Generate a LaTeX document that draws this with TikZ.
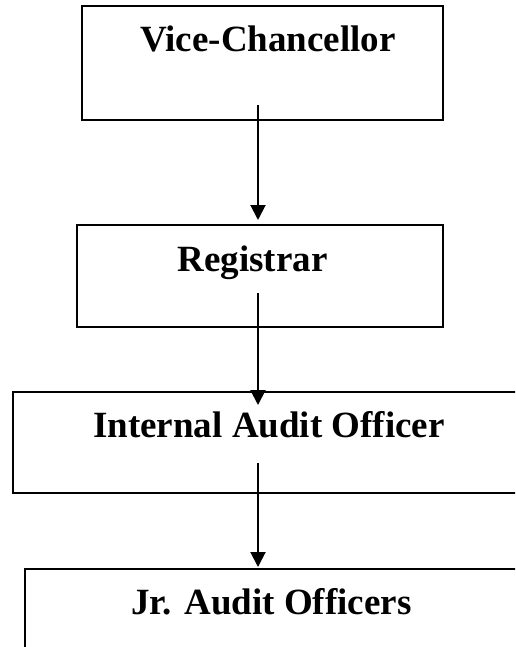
\documentclass[tikz,border=0pt]{standalone}
\usepackage{fontspec}
\setmainfont{Liberation Serif}
\usetikzlibrary{arrows.meta}
\begin{document}
\begin{tikzpicture}[x=1pt,y=-1pt,
  box/.style={draw=black,line width=1.9pt,rectangle,inner sep=0pt,anchor=north west},
  lbl/.style={anchor=base,inner sep=0pt,font=\fontsize{37}{40}\selectfont\bfseries},
  conn/.style={line width=2pt,-{Triangle[width=15pt,length=15pt]}}]
\useasboundingbox[fill=white] (0,0) rectangle (515,647);
\clip (0,0) rectangle (515,647);
\node[box,minimum width=361pt,minimum height=114pt] (b1) at (81,5) {};
\node[box,minimum width=366pt,minimum height=102pt] (b2) at (76,224) {};
\node[box,minimum width=520pt,minimum height=101pt] (b3) at (12,391) {};
\node[box,minimum width=520pt,minimum height=120pt] (b4) at (24,568) {};
\node[lbl] (t1) at (268,52) {Vice-Chancellor};
\node[lbl] (t2) at (252.5,271) {Registrar};
\node[lbl] (t3) at (269,437) {Internal Audit Officer};
\node[lbl] (t4) at (271.5,614) {Jr. Audit Officers};
\coordinate (s1) at (258,105);
\coordinate (e1) at (258,220);
\coordinate (s2) at (258,293);
\coordinate (e2) at (258,405);
\coordinate (s3) at (258,463);
\coordinate (e3) at (258,567);
\draw[conn] (s1) -- (e1);
\draw[conn] (s2) -- (e2);
\draw[conn] (s3) -- (e3);
\end{tikzpicture}
\end{document}
